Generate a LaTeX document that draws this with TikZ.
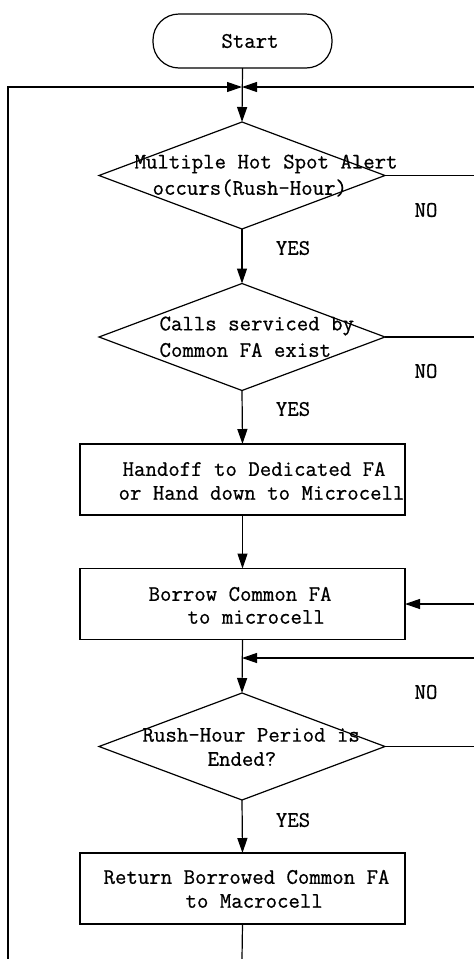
\documentclass[tikz,border=0pt]{standalone}
\usepackage{fontspec}
\newfontfamily\courfont[FakeBold=0.7]{Latin Modern Mono}
\usetikzlibrary{arrows.meta,shapes.geometric}
\begin{document}
\begin{tikzpicture}[x=1pt,y=-1pt,line width=1.2pt,
  every node/.style={font=\courfont\fontsize{22.2pt}{26pt}\selectfont},
  txt/.style={inner sep=0pt,anchor=west},
  lab/.style={inner sep=0pt},
  dec/.style={draw,diamond,minimum width=286pt,minimum height=107pt,inner sep=0pt,outer sep=0pt},
  proc/.style={draw,rectangle,minimum width=325pt,minimum height=71pt,inner sep=0pt,outer sep=0pt},
  arr/.style={-{Triangle[length=15pt,width=10pt]}}]
\useasboundingbox (0,0) rectangle (474,959);
% nodes
\node[draw,rectangle,rounded corners=26pt,minimum width=179pt,minimum height=54pt,inner sep=0pt,outer sep=0pt] (start) at (242.5,41) {};
\node[lab] (tstart) at (250,41) {Start};
\node[dec] (d1) at (242,175.5) {};
\node[dec] (d2) at (242,337) {};
\node[proc] (b1) at (242.5,479.5) {};
\node[proc] (b2) at (242.5,604) {};
\node[dec] (d3) at (242,746.5) {};
\node[proc] (b3) at (242.5,888.5) {};
% texts
\node[txt] (t1a) at (134,164) {Multiple Hot Spot Alert};
\node[txt] (t1b) at (152,188) {occurs(Rush-Hour)};
\node[txt] (t2a) at (159,326) {Calls serviced by};
\node[txt] (t2b) at (159,350) {Common FA exist};
\node[txt] (t3a) at (122,469) {Handoff to Dedicated FA};
\node[txt] (t3b) at (118,493) {or Hand down to Microcell};
\node[txt] (t4a) at (148,594) {Borrow Common FA};
\node[txt] (t4b) at (187,617) {to microcell};
\node[txt] (t5a) at (142,735) {Rush-Hour Period is};
\node[txt] (t5b) at (207,759) {Ended?};
\node[txt] (t6a) at (103,877) {Return Borrowed Common FA};
\node[txt] (t6b) at (185,901) {to Macrocell};
\node[lab] (no1) at (426,210) {NO};
\node[lab] (no2) at (426,371) {NO};
\node[lab] (no3) at (426,692) {NO};
\node[lab] (yes1) at (293,248) {YES};
\node[lab] (yes2) at (293,409) {YES};
\node[lab] (yes3) at (293,820) {YES};
% coordinates
\coordinate (j1) at (242,87);
\coordinate (jl) at (8,87);
\coordinate (jr) at (474,87);
\coordinate (bl) at (8,959);
\coordinate (bc) at (242,959);
\coordinate (r1) at (474,175.5);
\coordinate (r2) at (474,337);
\coordinate (r3) at (474,746.5);
\coordinate (rb2) at (474,604);
\coordinate (rj2) at (474,658);
\coordinate (j2) at (242,658);
% connectors
\draw[arr] (start.south) -- (d1.north);
\draw[arr] (bl) -- (jl) -- (j1);
\draw[arr] (jr) -- (j1);
\draw[arr] (d1.south) -- (d2.north);
\draw (d1.east) -- (r1);
\draw (d2.east) -- (r2);
\draw[arr] (d2.south) -- (b1.north);
\draw[arr] (b1.south) -- (b2.north);
\draw[arr] (rb2) -- (b2.east);
\draw[arr] (b2.south) -- (d3.north);
\draw[arr] (rj2) -- (j2);
\draw (d3.east) -- (r3);
\draw[arr] (d3.south) -- (b3.north);
\draw (b3.south) -- (bc);
\end{tikzpicture}
\end{document}
